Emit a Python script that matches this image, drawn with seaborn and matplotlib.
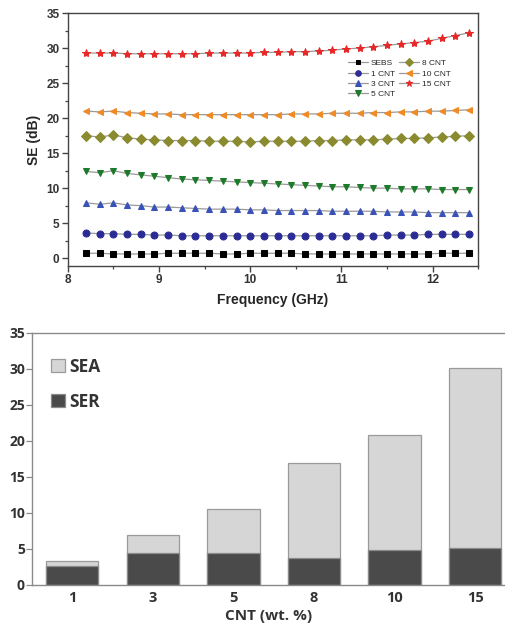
import matplotlib
matplotlib.use("Agg")
import matplotlib.pyplot as plt
import seaborn as sns
import pandas as pd
import numpy as np

# ---------------- data: top panel ----------------
freq = [8.20, 8.35, 8.50, 8.65, 8.80, 8.95, 9.10, 9.25, 9.40, 9.55,
        9.70, 9.85, 10.00, 10.15, 10.30, 10.45, 10.60, 10.75, 10.90, 11.05,
        11.20, 11.35, 11.50, 11.65, 11.80, 11.95, 12.10, 12.25, 12.40]

se_sebs = [0.7, 0.7, 0.6, 0.6, 0.6, 0.6, 0.7, 0.7, 0.7, 0.7, 0.6, 0.6, 0.7, 0.7, 0.7,
           0.7, 0.6, 0.6, 0.6, 0.6, 0.6, 0.6, 0.6, 0.6, 0.6, 0.6, 0.7, 0.7, 0.7]
se_1 = [3.6, 3.5, 3.5, 3.4, 3.4, 3.3, 3.3, 3.2, 3.2, 3.2, 3.2, 3.2, 3.2, 3.2, 3.2,
        3.2, 3.2, 3.2, 3.2, 3.2, 3.2, 3.2, 3.3, 3.3, 3.3, 3.4, 3.4, 3.4, 3.4]
se_3 = [7.9, 7.7, 7.9, 7.6, 7.5, 7.3, 7.3, 7.2, 7.1, 7.0, 7.0, 7.0, 6.9, 6.9, 6.8,
        6.8, 6.8, 6.8, 6.7, 6.7, 6.7, 6.7, 6.6, 6.6, 6.6, 6.5, 6.5, 6.5, 6.5]
se_5 = [12.4, 12.2, 12.5, 12.1, 11.9, 11.7, 11.5, 11.3, 11.2, 11.1, 11.0, 10.9, 10.8, 10.7, 10.6,
        10.5, 10.4, 10.3, 10.2, 10.2, 10.1, 10.0, 10.0, 9.9, 9.9, 9.9, 9.8, 9.8, 9.8]
se_8 = [17.5, 17.3, 17.6, 17.2, 17.0, 16.9, 16.8, 16.8, 16.8, 16.7, 16.7, 16.7, 16.6, 16.7, 16.7,
        16.7, 16.7, 16.8, 16.8, 16.9, 16.9, 16.9, 17.0, 17.1, 17.1, 17.2, 17.3, 17.4, 17.5]
se_10 = [21.0, 20.9, 21.0, 20.8, 20.7, 20.6, 20.6, 20.5, 20.5, 20.5, 20.5, 20.5, 20.5, 20.5, 20.5,
         20.6, 20.6, 20.6, 20.7, 20.7, 20.7, 20.8, 20.8, 20.9, 20.9, 21.0, 21.0, 21.1, 21.2]
se_15 = [29.3, 29.3, 29.3, 29.2, 29.2, 29.2, 29.2, 29.2, 29.2, 29.3, 29.3, 29.3, 29.3, 29.4, 29.4,
         29.5, 29.5, 29.6, 29.7, 29.9, 30.0, 30.2, 30.4, 30.6, 30.8, 31.0, 31.4, 31.8, 32.2]

series_labels = ["SEBS", "1 CNT", "3 CNT", "5 CNT", "8 CNT", "10 CNT", "15 CNT"]
series_values = [se_sebs, se_1, se_3, se_5, se_8, se_10, se_15]
series_colors = ["#000000", "#2b2b96", "#3a52b8", "#1d7a2a", "#8a8a2e", "#f08a24", "#e82828"]
series_markers = ["s", "o", "^", "v", "D", "<", "*"]
series_msize = [4.2, 5, 5, 5, 4.6, 5, 6]

x_ticks_top = [8, 9, 10, 11, 12]
y_ticks_top = [0, 5, 10, 15, 20, 25, 30, 35]

# ---------------- data: bottom panel ----------------
cnt_labels = ["1", "3", "5", "8", "10", "15"]
ser_vals = [2.7, 4.5, 4.4, 3.8, 4.8, 5.2]
sea_vals = [0.6, 2.4, 6.2, 13.2, 16.0, 25.0]

sns.set_theme(style="ticks")
plt.rcParams["font.family"] = ["Liberation Sans", "DejaVu Sans"]

fig = plt.figure(figsize=(5.06, 6.27), dpi=100)

# ---------------- top panel ----------------
ax1 = fig.add_axes([0.134, 0.576, 0.811, 0.403])
for lab, vals, col, mk, ms in zip(series_labels, series_values, series_colors,
                                   series_markers, series_msize):
    sns.lineplot(x=freq, y=vals, ax=ax1, color="#9a9a9a", linewidth=0.9,
                 marker=mk, markersize=ms, markerfacecolor=col,
                 markeredgecolor=col, label=lab)

ax1.set_xlim(8, 12.5)
ax1.set_ylim(-1.1, 35)
ax1.set_xticks(x_ticks_top)
ax1.set_yticks(y_ticks_top)
ax1.set_xticks([8.5, 9.5, 10.5, 11.5, 12.5], minor=True)
ax1.set_yticks([2.5, 7.5, 12.5, 17.5, 22.5, 27.5, 32.5], minor=True)
ax1.tick_params(axis="both", which="major", direction="out", length=4, width=1.0,
                labelsize=8.5, color="#444444", labelcolor="#333333",
                bottom=True, left=True, top=False, right=False, pad=2)
ax1.tick_params(axis="both", which="minor", direction="out", length=2.5, width=0.9,
                color="#444444", bottom=True, left=True, top=False, right=False)
for t in ax1.get_xticklabels() + ax1.get_yticklabels():
    t.set_fontweight("bold")
for sp in ax1.spines.values():
    sp.set_visible(True)
    sp.set_color("#444444")
    sp.set_linewidth(1.0)
ax1.set_xlabel("Frequency (GHz)", fontsize=10, fontweight="bold", labelpad=5)
ax1.set_ylabel("SE (dB)", fontsize=10, fontweight="bold", labelpad=4)

h, l = ax1.get_legend_handles_labels()
ax1.legend(h, l, ncol=2, loc="upper left", bbox_to_anchor=(0.675, 0.83),
           frameon=False, fontsize=6, handlelength=2.4, handletextpad=0.35,
           columnspacing=0.5, labelspacing=0.3, borderaxespad=0, markerscale=0.8)

# ---------------- bottom panel ----------------
ax2 = fig.add_axes([0.063, 0.067, 0.935, 0.402])
df = pd.DataFrame({"CNT": cnt_labels, "SER": ser_vals, "SEA": sea_vals})
df["Total"] = df["SER"] + df["SEA"]

sns.barplot(data=df, x="CNT", y="Total", ax=ax2, color="#d6d6d6", width=0.65,
            edgecolor="#9a9a9a", linewidth=0.9, saturation=1, label="SEA")
sns.barplot(data=df, x="CNT", y="SER", ax=ax2, color="#4a4a4a", width=0.65,
            edgecolor="#8a8a8a", linewidth=0.9, saturation=1, label="SER")

bfont = ["Open Sans", "DejaVu Sans"]
ax2.set_xlim(-0.5, 5.37)
ax2.set_ylim(0, 35)
ax2.set_yticks([0, 5, 10, 15, 20, 25, 30, 35])
ax2.spines["right"].set_visible(False)
for s in ["left", "bottom", "top"]:
    ax2.spines[s].set_visible(True)
    ax2.spines[s].set_color("#8a8a8a")
    ax2.spines[s].set_linewidth(1.0)
ax2.tick_params(axis="y", direction="out", length=4, width=0.9, color="#8a8a8a",
                labelsize=10, labelcolor="#333333", left=True, pad=1)
ax2.tick_params(axis="x", length=0, labelsize=10.5, labelcolor="#333333", pad=4)
for t in ax2.get_xticklabels() + ax2.get_yticklabels():
    t.set_family(bfont)
    t.set_fontweight("bold")
ax2.set_xlabel("CNT (wt. %)", fontsize=11, fontweight="bold",
               family=bfont, color="#333333", labelpad=3)
ax2.set_ylabel("")

h2, l2 = ax2.get_legend_handles_labels()
leg2 = ax2.legend(h2, l2, loc="upper left", bbox_to_anchor=(0.025, 0.93), frameon=False,
                  handlelength=0.8, handleheight=0.8, handletextpad=0.3,
                  labelspacing=1.0, borderaxespad=0,
                  prop={"family": bfont, "size": 12.5, "weight": "bold"})
for t in leg2.get_texts():
    t.set_color("#333333")

fig.savefig("out.png", dpi=100)
